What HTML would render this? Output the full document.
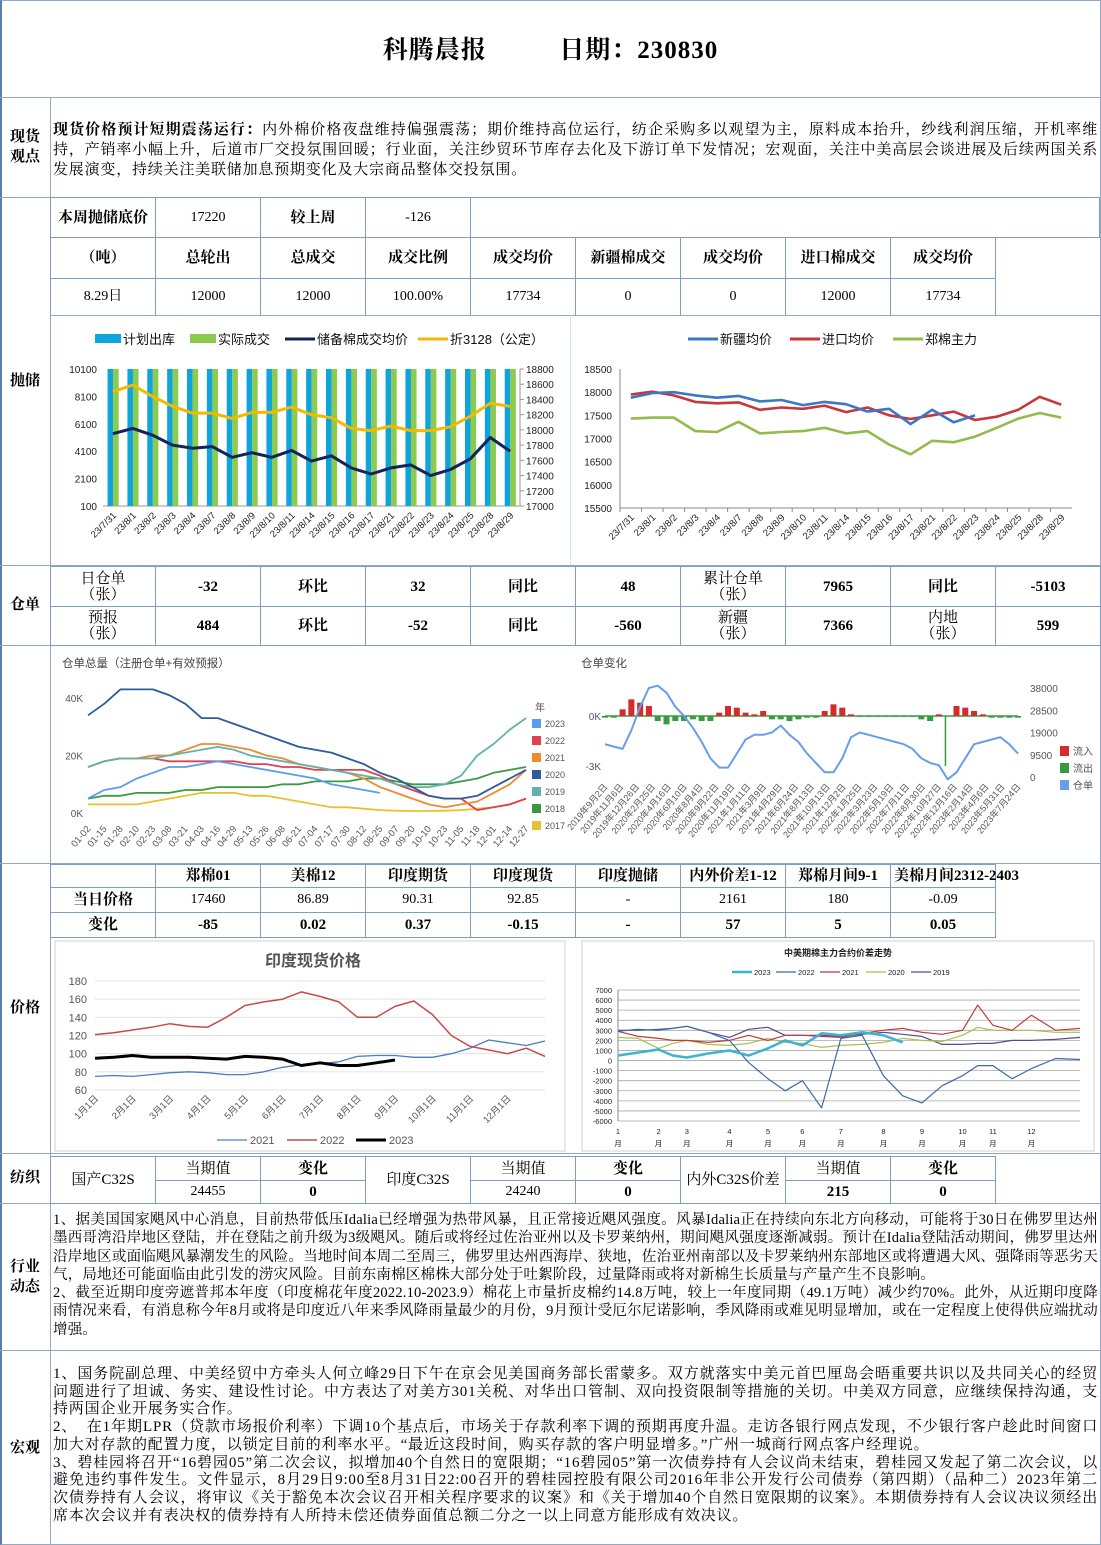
<!DOCTYPE html>
<html><head><meta charset="utf-8">
<style>
*{box-sizing:border-box;margin:0;padding:0}
body{width:1101px;height:1545px;background:#fff;position:relative;overflow:hidden;font-family:"Liberation Serif","Noto Serif CJK SC","Noto Sans CJK SC",serif;color:#000}
.a{position:absolute}
.hl{position:absolute;height:1px;background:#8fa9c6}
.vl{position:absolute;width:1px;background:#8fa9c6}
.c{position:absolute;display:flex;align-items:center;justify-content:center;text-align:center;border:1px solid #7f9dbf;font-size:14px;line-height:16px}
.b{font-weight:bold;font-size:15px}
.lab{position:absolute;left:0;width:50px;display:flex;align-items:center;justify-content:center;text-align:center;font-weight:bold;font-size:15px;line-height:20px}
.txt{position:absolute;left:53px;width:1045px;font-size:15px;letter-spacing:0.8px;line-height:18px;text-align:justify}
svg text{font-family:"Liberation Sans","Noto Sans CJK SC",sans-serif}
</style></head><body>
<div class="a" style="left:0;top:0;width:1101px;height:1545px;border:1px solid #8fa9c6;border-left:2px solid #5a7ea8"></div>
<div class="a" style="left:0;top:30px;width:1101px;text-align:center;font-size:25px;font-weight:bold;letter-spacing:1px">科腾晨报&nbsp;&nbsp;&nbsp;&nbsp;&nbsp;&nbsp;&nbsp;&nbsp;&nbsp;&nbsp;日期：230830</div>

<div class="hl" style="left:0;top:97px;width:1101px"></div>
<div class="hl" style="left:0;top:197px;width:1101px"></div>
<div class="hl" style="left:0;top:565px;width:1101px"></div>
<div class="hl" style="left:0;top:645px;width:1101px"></div>
<div class="hl" style="left:0;top:863px;width:1101px"></div>
<div class="hl" style="left:0;top:1153px;width:1101px"></div>
<div class="hl" style="left:0;top:1203px;width:1101px"></div>
<div class="hl" style="left:0;top:1350px;width:1101px"></div>
<div class="vl" style="left:50px;top:97px;height:1448px"></div>

<div class="lab" style="top:97px;height:100px">现货<br>观点</div>
<div class="lab" style="top:197px;height:368px">抛储</div>
<div class="lab" style="top:565px;height:80px">仓单</div>
<div class="lab" style="top:863px;height:290px">价格</div>
<div class="lab" style="top:1153px;height:50px">纺织</div>
<div class="lab" style="top:1203px;height:147px">行业<br>动态</div>
<div class="lab" style="top:1350px;height:195px">宏观</div>

<div class="txt" style="top:120px;line-height:20px"><b>现货价格预计短期震荡运行：</b>内外棉价格夜盘维持偏强震荡；期价维持高位运行，纺企采购多以观望为主，原料成本抬升，纱线利润压缩，开机率维持，产销率小幅上升，后道市厂交投氛围回暖；行业面，关注纱贸环节库存去化及下游订单下发情况；宏观面，关注中美高层会谈进展及后续两国关系发展演变，持续关注美联储加息预期变化及大宗商品整体交投氛围。</div>

<!-- reserve table -->
<div>
<div class="c b" style="left:50px;top:197px;width:106px;height:41px">本周抛储底价</div>
<div class="c" style="left:155px;top:197px;width:106px;height:41px">17220</div>
<div class="c b" style="left:260px;top:197px;width:106px;height:41px">较上周</div>
<div class="c" style="left:365px;top:197px;width:106px;height:41px">-126</div>
<div class="c" style="left:470px;top:197px;width:630px;height:41px"></div>
<div class="c b" style="left:50px;top:237px;width:106px;height:42px">（吨）</div>
<div class="c b" style="left:155px;top:237px;width:106px;height:42px">总轮出</div>
<div class="c b" style="left:260px;top:237px;width:106px;height:42px">总成交</div>
<div class="c b" style="left:365px;top:237px;width:106px;height:42px">成交比例</div>
<div class="c b" style="left:470px;top:237px;width:106px;height:42px">成交均价</div>
<div class="c b" style="left:575px;top:237px;width:106px;height:42px">新疆棉成交</div>
<div class="c b" style="left:680px;top:237px;width:106px;height:42px">成交均价</div>
<div class="c b" style="left:785px;top:237px;width:106px;height:42px">进口棉成交</div>
<div class="c b" style="left:890px;top:237px;width:106px;height:42px">成交均价</div>
<div class="c" style="left:50px;top:278px;width:106px;height:38px">8.29日</div>
<div class="c" style="left:155px;top:278px;width:106px;height:38px">12000</div>
<div class="c" style="left:260px;top:278px;width:106px;height:38px">12000</div>
<div class="c" style="left:365px;top:278px;width:106px;height:38px">100.00%</div>
<div class="c" style="left:470px;top:278px;width:106px;height:38px">17734</div>
<div class="c" style="left:575px;top:278px;width:106px;height:38px">0</div>
<div class="c" style="left:680px;top:278px;width:106px;height:38px">0</div>
<div class="c" style="left:785px;top:278px;width:106px;height:38px">12000</div>
<div class="c" style="left:890px;top:278px;width:106px;height:38px">17734</div>
</div>
<div class="hl" style="left:50px;top:315px;width:1051px"></div>
<div class="vl" style="left:570px;top:315px;height:250px;background:#d6e2ee"></div>

<!-- warehouse table -->
<div>
<div class="c" style="left:50px;top:566px;width:106px;height:41px;font-size:15px;line-height:16px">日仓单<br>（张）</div>
<div class="c b" style="left:155px;top:566px;width:106px;height:41px">-32</div>
<div class="c b" style="left:260px;top:566px;width:106px;height:41px">环比</div>
<div class="c b" style="left:365px;top:566px;width:106px;height:41px">32</div>
<div class="c b" style="left:470px;top:566px;width:106px;height:41px">同比</div>
<div class="c b" style="left:575px;top:566px;width:106px;height:41px">48</div>
<div class="c" style="left:680px;top:566px;width:106px;height:41px;font-size:15px;line-height:16px">累计仓单<br>（张）</div>
<div class="c b" style="left:785px;top:566px;width:106px;height:41px">7965</div>
<div class="c b" style="left:890px;top:566px;width:106px;height:41px">同比</div>
<div class="c b" style="left:995px;top:566px;width:106px;height:41px">-5103</div>
<div class="c" style="left:50px;top:606px;width:106px;height:40px;font-size:15px;line-height:16px">预报<br>（张）</div>
<div class="c b" style="left:155px;top:606px;width:106px;height:40px">484</div>
<div class="c b" style="left:260px;top:606px;width:106px;height:40px">环比</div>
<div class="c b" style="left:365px;top:606px;width:106px;height:40px">-52</div>
<div class="c b" style="left:470px;top:606px;width:106px;height:40px">同比</div>
<div class="c b" style="left:575px;top:606px;width:106px;height:40px">-560</div>
<div class="c" style="left:680px;top:606px;width:106px;height:40px;font-size:15px;line-height:16px">新疆<br>（张）</div>
<div class="c b" style="left:785px;top:606px;width:106px;height:40px">7366</div>
<div class="c" style="left:890px;top:606px;width:106px;height:40px;font-size:15px;line-height:16px">内地<br>（张）</div>
<div class="c b" style="left:995px;top:606px;width:106px;height:40px">599</div>
</div>

<!-- price table -->
<div>
<div class="c" style="left:50px;top:864px;width:106px;height:24px"></div>
<div class="c b" style="left:155px;top:864px;width:106px;height:24px">郑棉01</div>
<div class="c b" style="left:260px;top:864px;width:106px;height:24px">美棉12</div>
<div class="c b" style="left:365px;top:864px;width:106px;height:24px">印度期货</div>
<div class="c b" style="left:470px;top:864px;width:106px;height:24px">印度现货</div>
<div class="c b" style="left:575px;top:864px;width:106px;height:24px">印度抛储</div>
<div class="c b" style="left:680px;top:864px;width:106px;height:24px">内外价差1-12</div>
<div class="c b" style="left:785px;top:864px;width:106px;height:24px">郑棉月间9-1</div>
<div class="c b" style="left:890px;top:864px;width:106px;height:24px;white-space:nowrap;justify-content:flex-start;padding-left:3px">美棉月间2312-2403</div>
<div class="c b" style="left:50px;top:887px;width:106px;height:26px">当日价格</div>
<div class="c" style="left:155px;top:887px;width:106px;height:26px">17460</div>
<div class="c" style="left:260px;top:887px;width:106px;height:26px">86.89</div>
<div class="c" style="left:365px;top:887px;width:106px;height:26px">90.31</div>
<div class="c" style="left:470px;top:887px;width:106px;height:26px">92.85</div>
<div class="c" style="left:575px;top:887px;width:106px;height:26px">-</div>
<div class="c" style="left:680px;top:887px;width:106px;height:26px">2161</div>
<div class="c" style="left:785px;top:887px;width:106px;height:26px">180</div>
<div class="c" style="left:890px;top:887px;width:106px;height:26px">-0.09</div>
<div class="c b" style="left:50px;top:912px;width:106px;height:26px">变化</div>
<div class="c b" style="left:155px;top:912px;width:106px;height:26px">-85</div>
<div class="c b" style="left:260px;top:912px;width:106px;height:26px">0.02</div>
<div class="c b" style="left:365px;top:912px;width:106px;height:26px">0.37</div>
<div class="c b" style="left:470px;top:912px;width:106px;height:26px">-0.15</div>
<div class="c b" style="left:575px;top:912px;width:106px;height:26px">-</div>
<div class="c b" style="left:680px;top:912px;width:106px;height:26px">57</div>
<div class="c b" style="left:785px;top:912px;width:106px;height:26px">5</div>
<div class="c b" style="left:890px;top:912px;width:106px;height:26px">0.05</div>
</div>

<!-- textile table -->
<div>
<div class="c" style="left:50px;top:1156px;width:106px;height:48px;font-size:15px">国产C32S</div>
<div class="c" style="left:155px;top:1156px;width:106px;height:25px;font-size:15px">当期值</div>
<div class="c b" style="left:260px;top:1156px;width:106px;height:25px">变化</div>
<div class="c" style="left:365px;top:1156px;width:106px;height:48px;font-size:15px">印度C32S</div>
<div class="c" style="left:470px;top:1156px;width:106px;height:25px;font-size:15px">当期值</div>
<div class="c b" style="left:575px;top:1156px;width:106px;height:25px">变化</div>
<div class="c" style="left:680px;top:1156px;width:106px;height:48px;font-size:15px">内外C32S价差</div>
<div class="c" style="left:785px;top:1156px;width:106px;height:25px;font-size:15px">当期值</div>
<div class="c b" style="left:890px;top:1156px;width:106px;height:25px">变化</div>
<div class="c" style="left:155px;top:1180px;width:106px;height:24px">24455</div>
<div class="c b" style="left:260px;top:1180px;width:106px;height:24px">0</div>
<div class="c" style="left:470px;top:1180px;width:106px;height:24px">24240</div>
<div class="c b" style="left:575px;top:1180px;width:106px;height:24px">0</div>
<div class="c b" style="left:785px;top:1180px;width:106px;height:24px">215</div>
<div class="c b" style="left:890px;top:1180px;width:106px;height:24px">0</div>
</div>

<div class="txt" style="top:1211px;line-height:18.3px;font-size:14.5px;letter-spacing:0.2px">1、据美国国家飓风中心消息，目前热带低压Idalia已经增强为热带风暴，且正常接近飓风强度。风暴Idalia正在持续向东北方向移动，可能将于30日在佛罗里达州墨西哥湾沿岸地区登陆，并在登陆之前升级为3级飓风。随后或将经过佐治亚州以及卡罗莱纳州，期间飓风强度逐渐减弱。预计在Idalia登陆活动期间，佛罗里达州沿岸地区或面临飓风暴潮发生的风险。当地时间本周二至周三，佛罗里达州西海岸、狭地，佐治亚州南部以及卡罗莱纳州东部地区或将遭遇大风、强降雨等恶劣天气，局地还可能面临由此引发的涝灾风险。目前东南棉区棉株大部分处于吐絮阶段，过量降雨或将对新棉生长质量与产量产生不良影响。<br>2、截至近期印度旁遮普邦本年度（印度棉花年度2022.10-2023.9）棉花上市量折皮棉约14.8万吨，较上一年度同期（49.1万吨）减少约70%。此外，从近期印度降雨情况来看，有消息称今年8月或将是印度近八年来季风降雨量最少的月份，9月预计受厄尔尼诺影响，季风降雨或难见明显增加，或在一定程度上使得供应端扰动增强。</div>

<div class="txt" style="top:1366px;line-height:17.7px">1、国务院副总理、中美经贸中方牵头人何立峰29日下午在京会见美国商务部长雷蒙多。双方就落实中美元首巴厘岛会晤重要共识以及共同关心的经贸问题进行了坦诚、务实、建设性讨论。中方表达了对美方301关税、对华出口管制、双向投资限制等措施的关切。中美双方同意，应继续保持沟通，支持两国企业开展务实合作。<br>2、&nbsp;&nbsp;在1年期LPR（贷款市场报价利率）下调10个基点后，市场关于存款利率下调的预期再度升温。走访各银行网点发现，不少银行客户趁此时间窗口加大对存款的配置力度，以锁定目前的利率水平。“最近这段时间，购买存款的客户明显增多。”广州一城商行网点客户经理说。<br>3、碧桂园将召开“16碧园05”第二次会议，拟增加40个自然日的宽限期；“16碧园05”第一次债券持有人会议尚未结束，碧桂园又发起了第二次会议，以避免违约事件发生。文件显示，8月29日9:00至8月31日22:00召开的碧桂园控股有限公司2016年非公开发行公司债券（第四期）（品种二）2023年第二次债券持有人会议，将审议《关于豁免本次会议召开相关程序要求的议案》和《关于增加40个自然日宽限期的议案》。本期债券持有人会议决议须经出席本次会议并有表决权的债券持有人所持未偿还债券面值总额二分之一以上同意方能形成有效决议。</div>

<svg class="a" style="left:0;top:0" width="1101" height="1545" id="charts"></svg>

<script>
// ===== Chart 1: reserve auction =====
const resDates=["23/7/31","23/8/1","23/8/2","23/8/3","23/8/4","23/8/7","23/8/8","23/8/9","23/8/10","23/8/11","23/8/14","23/8/15","23/8/16","23/8/17","23/8/21","23/8/22","23/8/23","23/8/24","23/8/25","23/8/28","23/8/29"];
const resPlanned=[10100,10100,10100,10100,10100,10100,10100,10100,10100,10100,10100,10100,10100,10100,10100,10100,10100,10100,10100,10100,10100];
const resActual=[10100,10100,10100,10100,10100,10100,10100,10100,10100,10100,10100,10100,10100,10100,10100,10100,10100,10100,10100,10100,10100];
const resAvgPrice=[17950,18020,17930,17800,17760,17780,17640,17700,17640,17730,17590,17660,17500,17420,17500,17540,17400,17480,17620,17900,17720];
const res3128=[18500,18590,18440,18310,18220,18220,18150,18230,18230,18300,18200,18160,18020,17990,18050,17990,17990,18040,18180,18350,18310];
const resLeftTicks=[100,2100,4100,6100,8100,10100];
const resRightTicks=[17000,17200,17400,17600,17800,18000,18200,18400,18600,18800];
// ===== Chart 2: spot prices =====
const spotXinjiang=[17880,17980,18000,17930,17880,17920,17800,17830,17720,17790,17740,17580,17640,17310,17620,17350,17500];
const spotImport=[17950,18010,17930,17790,17760,17780,17620,17670,17640,17710,17570,17670,17500,17420,17500,17580,17400,17470,17620,17900,17730];
const spotZce=[17430,17450,17450,17160,17140,17360,17110,17140,17160,17230,17110,17160,16870,16660,16950,16920,17040,17230,17430,17550,17450];
const spotTicks=[15500,16000,16500,17000,17500,18000,18500];
// ===== Chart 3: warehouse total (K) =====
const whDates=["01-02","01-15","01-28","02-10","02-23","03-08","03-21","04-03","04-16","04-29","05-13","05-26","06-08","06-21","07-04","07-17","07-30","08-12","08-25","09-07","09-20","10-10","10-23","11-05","11-18","12-01","12-14","12-27"];
const whYears=["2023","2022","2021","2020","2019","2018","2017"];
const wh2023=[5,8,9,12,14,16,16,17,18,17,16,15,14,13,12,10,9,8,7];
const wh2022=[16,18,19,19,19,18,18,18,18,18,17,17,16,16,15,15,15,15,13,10,8,6,5,5,1,2,3,5];
const wh2021=[16,18,19,19,20,20,22,24,24,23,22,20,19,17,16,15,14,12,9,7,5,3,2,3,4,7,10,15];
const wh2020=[34,38,43,43,43,41,38,33,33,31,29,27,25,23,22,21,19,17,14,12,9,6,5,5,6,9,12,15];
const wh2019=[16,18,19,19,19,20,21,22,23,22,20,19,18,17,16,15,14,13,12,10,9,9,10,13,20,24,29,33];
const wh2018=[5,6,6,7,7,7,8,8,9,9,9,9,10,10,11,11,11,12,12,11,10,10,10,11,12,14,15,16];
const wh2017=[3,3,3,3,4,5,6,7,7,7,6,6,5,4,3,2,2,1.5,1,0.8,0.7,0.7,0.8,1,1.5,2,3,5];
// ===== Chart 4: warehouse change =====
const chgLabels=["2019年9月2日","2019年11月6日","2019年12月26日","2020年2月25日","2020年4月16日","2020年6月10日","2020年8月4日","2020年9月22日","2020年11月19日","2021年1月11日","2021年3月9日","2021年4月29日","2021年6月24日","2021年8月13日","2021年10月13日","2021年12月2日","2022年1月25日","2022年3月23日","2022年5月19日","2022年7月11日","2022年8月30日","2022年10月27日","2022年12月16日","2023年2月14日","2023年4月6日","2023年5月31日","2023年7月24日"];
const chgStock=[14,13,12,20,30,38,39,36,30,26,21,15,8,4,4,10,16,18,18,19,22,18,15,10,6,2,2,8,17,19,18,17,16,15,14,12,8,6,5,-1,2,8,14,15,16,17,14,10];
const chgFlow=[-0.1,-0.1,0.4,1.0,0.8,0.6,-0.3,-0.5,-0.3,-0.3,-0.2,-0.3,-0.3,0.2,0.6,0.5,0.2,0.1,0.3,-0.2,-0.2,-0.3,-0.2,-0.1,-0.1,0.3,0.7,0.5,0.1,-0.05,-0.05,-0.05,-0.05,-0.05,-0.05,-0.05,-0.2,-0.3,0.1,-3.0,0.6,0.5,0.3,0.1,-0.1,-0.1,-0.1,-0.1];
const chgRightTicks=[0,9500,19000,28500,38000];
// ===== Chart 5: India spot =====
const indMonths=["1月1日","2月1日","3月1日","4月1日","5月1日","6月1日","7月1日","8月1日","9月1日","10月1日","11月1日","12月1日"];
const ind2021=[75,76,75,77,79,80,79,77,77,80,85,88,89,91,97,98,98,96,96,100,106,115,112,109,114];
const ind2022=[121,123,126,129,133,130,129,140,153,157,160,168,163,157,140,140,152,158,143,120,108,104,100,106,97];
const ind2023=[95,96,98,96,96,96,95,94,97,96,94,87,90,87,87,90,93];
const indTicks=[60,80,100,120,140,160,180];
// ===== Chart 6: CN-US spread =====
const sprMonthStart=[0,20,34,55,74,91,110,131,150,170,185,204,228];
const spr2023=[500,800,1100,500,300,700,1000,500,1200,2000,1500,2700,2500,2800,2500,1800];
const spr2022=[2900,3100,3000,3200,3400,2800,2000,-200,-1800,-3000,-2000,-4700,2200,2500,-1500,-3500,-4200,-2500,-1500,-500,-500,-1800,-800,200,100];
const spr2021=[2900,2400,2200,2000,2000,1800,2000,2500,2000,2500,2500,2400,2300,2700,3000,3200,2800,2600,3000,5500,3500,3000,4500,3000,3200];
const spr2020=[2300,2200,1200,1700,2000,1600,1500,1700,2200,1800,1700,1300,1500,1600,1800,2200,2000,1900,2500,3300,3000,3000,3000,2800,2800];
const spr2019=[3000,3000,3100,3200,3400,2800,2300,3100,3300,2500,2500,2500,2400,2600,2800,2600,2400,1600,1600,1700,1700,2000,2000,2100,2300];
const sprTicks=[-6000,-5000,-4000,-3000,-2000,-1000,0,1000,2000,3000,4000,5000,6000,7000];

const S=document.getElementById('charts');
const NS='http://www.w3.org/2000/svg';
function mk(tag,attrs,parent){const e=document.createElementNS(NS,tag);for(const k in attrs)e.setAttribute(k,attrs[k]);(parent||S).appendChild(e);return e;}
function txt(x,y,s,size,fill,anchor,extra){const t=mk('text',Object.assign({x:x,y:y,'font-size':size,fill:fill||'#333','text-anchor':anchor||'start'},extra||{}));t.textContent=s;return t;}
function lin(d0,d1,r0,r1){return v=>r0+(v-d0)/(d1-d0)*(r1-r0);}
function poly(pts,color,w){return mk('polyline',{points:pts.map(p=>p[0].toFixed(1)+','+p[1].toFixed(1)).join(' '),fill:'none',stroke:color,'stroke-width':w,'stroke-linejoin':'round'});}

// ---- Chart 1
(function(){
 const x0=103,x1=520,yT=369,yB=506,n=resDates.length,bw=(x1-x0)/n;
 const yL=lin(100,10100,yB,yT), yR=lin(17000,18800,yB,yT);
 const g=mk('g',{});
 
 
 [['计划出库','#0ea5dc','rect',95],['实际成交','#8ccb4f','rect',190],['储备棉成交均价','#10245a','line',285],['折3128（公定）','#f5b800','line',418]].forEach(l=>{
  if(l[2]=='rect'){const r=mk('rect',{x:l[3],y:334,width:26,height:9,fill:l[1]},g);}
  else{const r=mk('line',{x1:l[3],x2:l[3]+30,y1:339,y2:339,stroke:l[1],'stroke-width':3},g);}
  const t=txt(l[3]+(l[2]=='rect'?28:32),344,l[0],13,'#111');
 });
 resLeftTicks.forEach(v=>{const t=txt(x0-6,yL(v)+4,String(v),10,'#222','end');});
 resRightTicks.forEach(v=>{mk('line',{x1:x1,x2:x1+4,y1:yR(v),y2:yR(v),stroke:'#999'});const t=txt(x1+6,yR(v)+4,String(v),10,'#222');});
 mk('line',{x1:x0,x2:x1,y1:yB,y2:yB,stroke:'#999'});
 mk('line',{x1:x1,x2:x1,y1:yT,y2:yB,stroke:'#999'});
 resDates.forEach((d,i)=>{
  const cx=x0+bw*(i+0.5);
  const b1=mk('rect',{x:cx-bw*0.27,y:yL(resPlanned[i]),width:bw*0.28,height:yB-yL(resPlanned[i]),fill:'#0ea5dc'});
  
  const b2=mk('rect',{x:cx+0.01*bw,y:yL(resActual[i]),width:bw*0.28,height:yB-yL(resActual[i]),fill:'#8ccb4f'});
  
  const t=txt(cx+4,yB+10,d,9.5,'#222','end',{transform:'rotate(-45 '+(cx+4)+' '+(yB+10)+')'});
  
 });
 const l1=poly(res3128.map((v,i)=>[x0+bw*(i+0.5),yR(v)]),'#f5b800',3);
 
 const l2=poly(resAvgPrice.map((v,i)=>[x0+bw*(i+0.5),yR(v)]),'#10245a',3);
 
})();

// ---- Chart 2
(function(){
 const x0=620,x1=1072,yT=369,yB=508,n=resDates.length,bw=(x1-x0)/n;
 const y=lin(15500,18500,yB,yT);
 [['新疆均价','#3a78c3',688],['进口均价','#c8353a',790],['郑棉主力','#93bb4a',893]].forEach(l=>{
  const s=mk('line',{x1:l[2],x2:l[2]+30,y1:339,y2:339,stroke:l[1],'stroke-width':3});
  const t=txt(l[2]+32,344,l[0],13,'#111');
 });
 spotTicks.forEach(v=>{const t=txt(x0-8,y(v)+4,String(v),10,'#222','end');});
 mk('line',{x1:x0,x2:x0,y1:yT,y2:yB,stroke:'#888'});
 mk('line',{x1:x0,x2:x1,y1:yB,y2:yB,stroke:'#888'});
 resDates.forEach((d,i)=>{const cx=x0+bw*(i+0.5);mk('line',{x1:x0+bw*i,x2:x0+bw*i,y1:yB,y2:yB+4,stroke:'#888'});
  const t=txt(cx+4,yB+10,d,9.5,'#222','end',{transform:'rotate(-45 '+(cx+4)+' '+(yB+10)+')'});});
 [[spotZce,'#93bb4a','line-zce-main'],[spotImport,'#c8353a','line-import-avg'],[spotXinjiang,'#3a78c3','line-xinjiang-avg']].forEach(s=>{
  const p=poly(s[0].map((v,i)=>[x0+bw*(i+0.5),y(v)]),s[1],2.6);
 });
})();

// ---- Chart 3
(function(){
 const x0=88,x1=526,yT=698,yB=813,n=whDates.length,st=(x1-x0)/(n-1);
 const y=lin(0,40,yB,yT);
 const t0=txt(62,667,'仓单总量（注册仓单+有效预报）',11.5,'#444');
 [0,20,40].forEach(v=>{const t=txt(83,y(v)+4,v+'K',10,'#555','end');});
 whDates.forEach((d,i)=>{const cx=x0+st*i;const t=txt(cx+3,yB+16,d,9.5,'#555','end',{transform:'rotate(-50 '+(cx+3)+' '+(yB+16)+')'});});
 const cols={'2023':'#5b9bf0','2022':'#e04050','2021':'#f08a30','2020':'#2e5c9a','2019':'#5fb3a8','2018':'#3a9a40','2017':'#e8c030'};
 const data={'2023':wh2023,'2022':wh2022,'2021':wh2021,'2020':wh2020,'2019':wh2019,'2018':wh2018,'2017':wh2017};
 ['2017','2018','2022','2021','2019','2020','2023'].forEach(k=>{const p=poly(data[k].map((v,i)=>[x0+st*i,y(v)]),cols[k],1.8);});
 txt(535,711,'年',10,'#555');
 whYears.forEach((k,i)=>{const yy=724+i*17;const r=mk('rect',{x:532,y:yy-5,width:9,height:9,fill:cols[k]});
  const t=txt(545,yy+3,k,9,'#555');});
})();

// ---- Chart 4
(function(){
 const x0=605,x1=1018,n=chgStock.length,st=(x1-x0)/(n-1);
 const yF=lin(0,-3,716,766), yS=lin(0,38000,777,688);
 const t0=txt(581,667,'仓单变化',11.5,'#444');
 [[0,'0K'],[-3,'-3K']].forEach(a=>{const t=txt(601,yF(a[0])+4,a[1],10,'#555','end');});
 chgRightTicks.forEach(v=>{const t=txt(1030,yS(v)+4,String(v),10,'#555');});
 mk('line',{x1:x0,x2:x1,y1:716,y2:716,stroke:'#3a9a40','stroke-width':1.5});
 chgFlow.forEach((v,i)=>{const cx=x0+st*i;const yy=yF(v);const b=mk('rect',{x:cx-3,y:Math.min(yy,716),width:v<-1?1.5:6,height:Math.abs(yy-716),fill:v>0?'#d42c2c':'#3a9a40'});});
 const p=poly(chgStock.map((v,i)=>[x0+st*i,yS(v*1000)]),'#6a9de8',2);
 const lst=(x1-x0)/(chgLabels.length-1);
 chgLabels.forEach((d,i)=>{const cx=x0+lst*i;const t=txt(cx+3,787,d,9,'#555','end',{transform:'rotate(-50 '+(cx+3)+' 787)'});});
 [['流入','#d42c2c'],['流出','#3a9a40'],['仓单','#6a9de8']].forEach((l,i)=>{const yy=751+i*17;const r=mk('rect',{x:1060,y:yy-5,width:9,height:10,fill:l[1]});const t=txt(1073,yy+4,l[0],10,'#555');});
})();

// ---- Chart 5
(function(){
 mk('rect',{x:55,y:941,width:510,height:210,fill:'none',stroke:'#d0d0d0'});
 const x0=95,x1=545,yT=981,yB=1090;
 const y=lin(60,180,yB,yT), xm=lin(0,12,x0,x1);
 const t0=txt(313,966,'印度现货价格',16,'#555','middle',{'font-weight':'bold','font-family':'Liberation Serif,Noto Serif CJK SC,serif'});
 indTicks.forEach(v=>{mk('line',{x1:x0,x2:x1,y1:y(v),y2:y(v),stroke:'#e2e2e2'});const t=txt(x0-8,y(v)+4,String(v),11,'#555','end');});
 indMonths.forEach((d,i)=>{const cx=xm(i)+4;const t=txt(cx,yB+9,d,9.5,'#555','end',{transform:'rotate(-45 '+cx+' '+(yB+9)+')'});});
 [[ind2021,'#4a7cc0',1.3,'line-2021'],[ind2022,'#c84848',1.5,'line-2022'],[ind2023,'#000',3,'line-2023']].forEach(s=>{const p=poly(s[0].map((v,i)=>[xm(i/2),y(v)]),s[1],s[2]);});
 [['2021','#4a7cc0',1.3,217],['2022','#c84848',1.5,287],['2023','#000',3,356]].forEach(l=>{const s=mk('line',{x1:l[3],x2:l[3]+30,y1:1140,y2:1140,stroke:l[1],'stroke-width':l[2]});const t=txt(l[3]+33,1144,l[0],11,'#555');});
})();

// ---- Chart 6
(function(){
 mk('rect',{x:582,y:941,width:512,height:210,fill:'none',stroke:'#d0d0d0'});
 const x0=618,x1=1080,yT=990,yB=1121;
 const y=lin(-6000,7000,yB,yT), xi=lin(0,228,x0,x1);
 const xm=m=>{const k=Math.min(Math.floor(m),11);const f=m-k;return xi(sprMonthStart[k]+f*(sprMonthStart[k+1]-sprMonthStart[k]));};
 const t0=txt(838,956,'中美期棉主力合约价差走势',9,'#222','middle',{'font-weight':'bold'});
 sprTicks.forEach(v=>{mk('line',{x1:x0,x2:x1,y1:y(v),y2:y(v),stroke:'#a8a8a8','stroke-width':0.8});const t=txt(x0-6,y(v)+3,String(v),7.5,'#222','end');});
 mk('line',{x1:x0,x2:x0,y1:yT,y2:yB,stroke:'#888'});
 for(let m=0;m<12;m++){const cx=xm(m);const t=txt(cx,1134,String(m+1),7.5,'#222','middle');const t2=txt(cx,1146,'月',7.5,'#222','middle');}
 const ser=[[spr2019,'#5a4a8c',1.2,'line-2019'],[spr2020,'#a8c050',1.2,'line-2020'],[spr2021,'#c03a3a',1.2,'line-2021'],[spr2022,'#3a6aa8',1.2,'line-2022'],[spr2023,'#3cb4d0',2.5,'line-2023']];
 ser.forEach(s=>{const p=poly(s[0].map((v,i)=>[xm(i/2),y(v)]),s[1],s[2]);});
 [['2023','#3cb4d0',2.5,732],['2022','#3a6aa8',1.2,776],['2021','#c03a3a',1.2,820],['2020','#a8c050',1.2,866],['2019','#5a4a8c',1.2,911]].forEach(l=>{const s=mk('line',{x1:l[3],x2:l[3]+20,y1:972,y2:972,stroke:l[1],'stroke-width':l[2]});const t=txt(l[3]+22,975,l[0],7.5,'#222');});
})();
</script>
</body></html>
